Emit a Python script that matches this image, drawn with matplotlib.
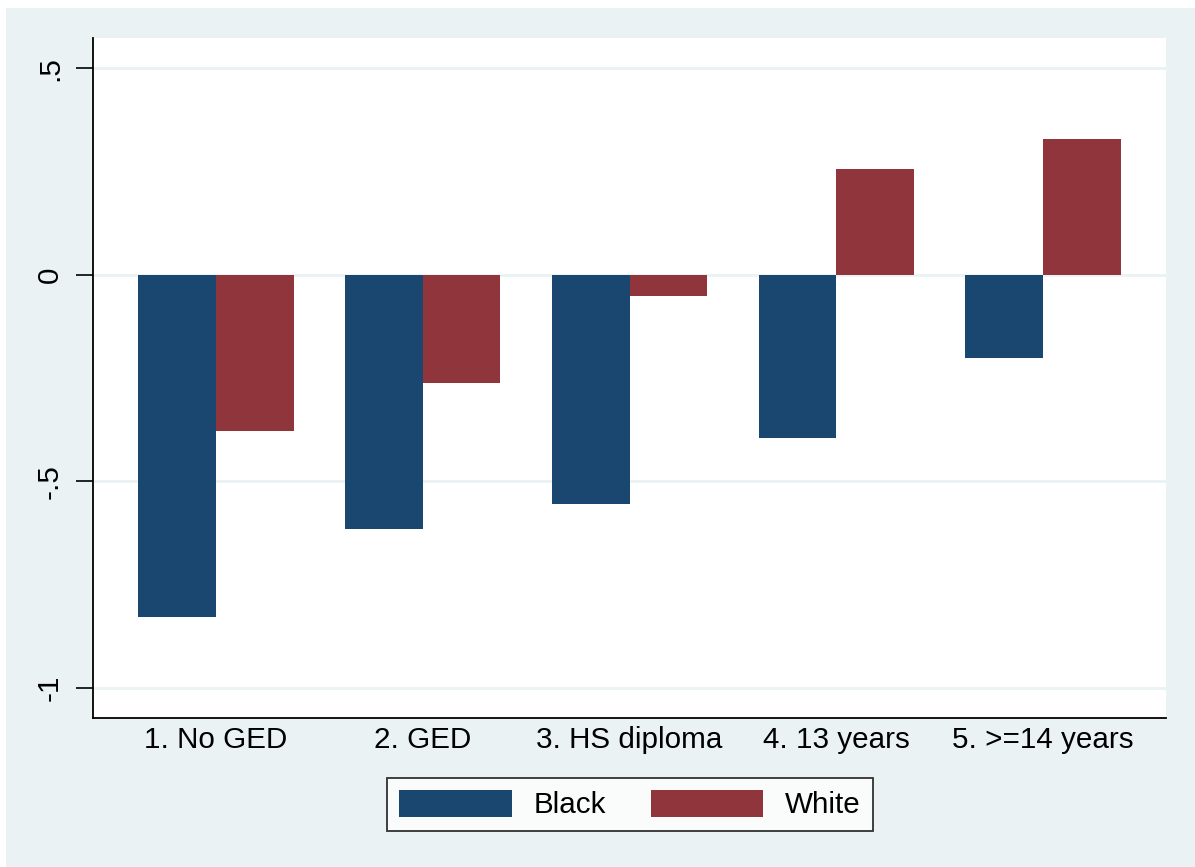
import numpy as np
import matplotlib.pyplot as plt
from matplotlib.patches import Rectangle

# niveaux d'education et ecarts moyens par groupe
categories = ['1. No GED', '2. GED', '3. HS diploma', '4. 13 years', '5. >=14 years']
black = [-0.829, -0.616, -0.555, -0.395, -0.201]
white = [-0.378, -0.262, -0.051, 0.256, 0.329]
series_names = ['Black', 'White']
yticks = [-1, -0.5, 0, 0.5]
ytick_labels = ['-1', '-.5', '0', '.5']

navy = '#1a476f'
maroon = '#90353b'
bg = '#eaf2f3'

plt.rcParams['font.family'] = ['Liberation Sans', 'DejaVu Sans']
fs = 21.3

fig = plt.figure(figsize=(11.95, 8.67), dpi=100)
fig.patch.set_facecolor('white')
# fond bleu clair facon Stata s2color
fig.patches.append(Rectangle((6 / 1195, 0), 1 - 6 / 1195, 1 - 8 / 867,
                             transform=fig.transFigure, facecolor=bg,
                             edgecolor='none', zorder=-10))

ax = fig.add_axes([93 / 1195, 1 - 718 / 867, (1166 - 93) / 1195, (718 - 38) / 867])
ax.set_facecolor('white')

x = np.arange(1, len(categories) + 1)
w = 0.375
ax.bar(x - w / 2, black, width=w, color=navy, label=series_names[0], zorder=3)
ax.bar(x + w / 2, white, width=w, color=maroon, label=series_names[1], zorder=3)

ax.set_xlim(0.405, 5.595)
ax.set_ylim(-1.073, 0.573)

ax.set_yticks(yticks)
ax.set_yticklabels(ytick_labels, rotation=90, va='center', fontsize=fs)
ax.set_xticks(x)
ax.set_xticklabels(categories, fontsize=fs)
ax.tick_params(axis='x', length=0, pad=6)
ax.tick_params(axis='y', length=12, width=1.2, pad=9)

for yv in yticks:
    ax.axhline(yv, color=bg, lw=2, zorder=1)

for s in ['top', 'right']:
    ax.spines[s].set_visible(False)
for s in ['left', 'bottom']:
    ax.spines[s].set_linewidth(1.3)
    ax.spines[s].set_color('black')

leg = fig.legend(loc='center', bbox_to_anchor=(630 / 1195, 1 - 804.5 / 867),
                 ncol=2, fontsize=fs, frameon=True, fancybox=False,
                 handlelength=3.8, handleheight=1.05, handletextpad=0.75,
                 columnspacing=1.5, borderpad=0.4)
leg.get_frame().set_edgecolor('black')
leg.get_frame().set_linewidth(1.3)

fig.savefig('out.png', dpi=100, facecolor=fig.get_facecolor())
